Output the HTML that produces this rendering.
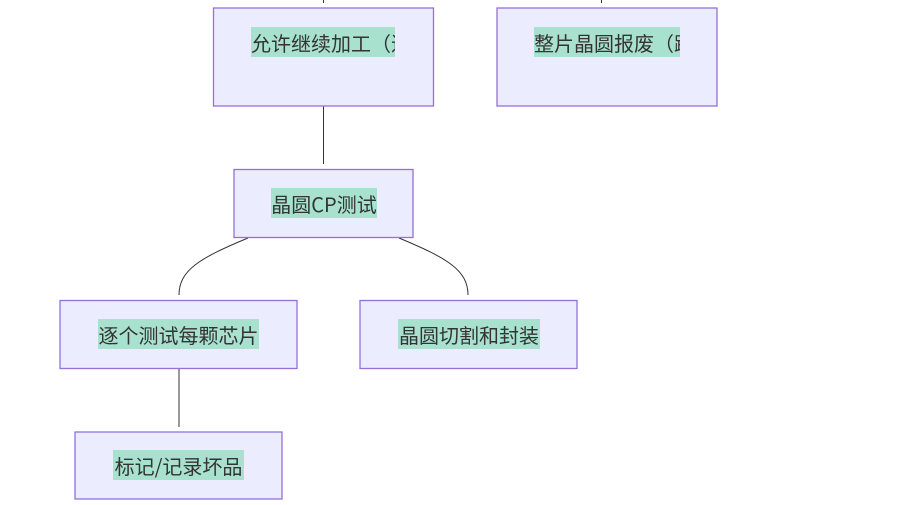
<!DOCTYPE html>
<html><head><meta charset="utf-8"><style>
html,body{margin:0;padding:0;background:#fff;width:919px;height:505px;overflow:hidden;position:relative}
.l{position:absolute;height:30px;line-height:31px;background:#a8e2cf;color:#333;font-family:"Noto Sans CJK SC","Liberation Sans",sans-serif;font-size:20px;white-space:nowrap;overflow:hidden;text-align:center}
</style></head><body>
<svg width="919" height="505" style="position:absolute;left:0;top:0">
<g fill="none" stroke="#333" stroke-width="1">
<line x1="323.5" y1="0" x2="323.5" y2="3"/>
<line x1="601.5" y1="0" x2="601.5" y2="3"/>
<line x1="323.5" y1="106" x2="323.5" y2="164"/>
<path d="M248,238 C200,258 179,270 179,295"/>
<path d="M399,238 C447,258 468,270 468,295"/>
<line x1="179" y1="368" x2="179" y2="427"/>
</g>
<g fill="#ececff" stroke="#9370db" stroke-width="1.3">
<rect x="213.5" y="8" width="220" height="98"/>
<rect x="497" y="8" width="220" height="98"/>
<rect x="234" y="169.5" width="179" height="68"/>
<rect x="60" y="300.5" width="237" height="68"/>
<rect x="360" y="300.5" width="217" height="68"/>
<rect x="75" y="432" width="207" height="67"/>
</g>
</svg>
<div class="l" style="left:251px;top:27px;width:144px;text-align:left">允许继续加工（进</div>
<div class="l" style="left:534px;top:27px;width:146px;text-align:left">整片晶圆报废（跳</div>
<div class="l" style="left:271px;top:188px;width:106px">晶圆CP测试</div>
<div class="l" style="left:98px;top:319px;width:161px">逐个测试每颗芯片</div>
<div class="l" style="left:398px;top:319px;width:142px">晶圆切割和封装</div>
<div class="l" style="left:113px;top:450px;width:131px">标记/记录坏品</div>
</body></html>
